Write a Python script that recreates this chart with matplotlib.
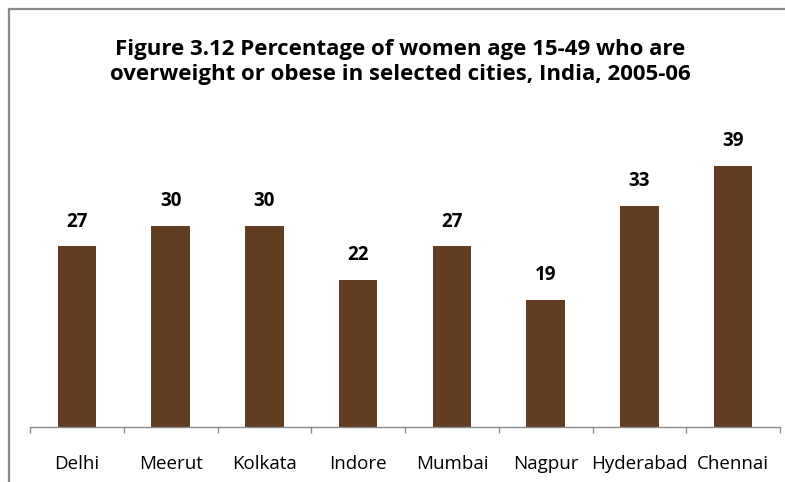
import matplotlib.pyplot as plt
from matplotlib.patches import Rectangle
from matplotlib.ticker import FixedLocator

# cities and share of women 15-49 overweight or obese (%)
cities = ['Delhi', 'Meerut', 'Kolkata', 'Indore', 'Mumbai', 'Nagpur', 'Hyderabad', 'Chennai']
values = [27, 30, 30, 22, 27, 19, 33, 39]

plt.rcParams['font.family'] = ['Open Sans', 'DejaVu Sans']

fig = plt.figure(figsize=(7.85, 4.82), dpi=100)

# grey outline of the chart area
fig.patches.append(Rectangle((9 / 785, -0.1), 1.2, 1.1 - 9 / 482, transform=fig.transFigure,
                             fill=False, edgecolor='#8a8a8a', linewidth=1.6))

ax = fig.add_axes([30 / 785, 1 - 427 / 482, 750 / 785, (427 - 125.5) / 482])

x = range(len(cities))
ax.bar(x, values, width=0.41, color='#633d22')

for xi, v in zip(x, values):
    ax.annotate(str(v), xy=(xi, v), xytext=(0, 10.5), textcoords='offset points',
                ha='center', va='bottom', fontsize=13.5, fontweight='bold')

ax.set_xlim(-0.5, len(cities) - 0.5)
ax.set_ylim(0, 45)
ax.set_yticks([])
ax.set_xticks(list(x))
ax.set_xticklabels(cities, fontsize=13.5)
ax.tick_params(axis='x', which='major', length=0, pad=20)
ax.xaxis.set_minor_locator(FixedLocator([i - 0.5 for i in range(len(cities) + 1)]))
ax.tick_params(axis='x', which='minor', length=4.5, color='#8a8a8a', width=1)

for side in ['left', 'right', 'top']:
    ax.spines[side].set_visible(False)
ax.spines['bottom'].set_color('#8a8a8a')
ax.spines['bottom'].set_linewidth(1)

fig.text(400 / 785, 1 - 62 / 482,
         'Figure 3.12 Percentage of women age 15-49 who are\n'
         'overweight or obese in selected cities, India, 2005-06',
         ha='center', va='center', fontsize=16, fontweight='bold', linespacing=1.3)

fig.savefig('out.png', dpi=100)
